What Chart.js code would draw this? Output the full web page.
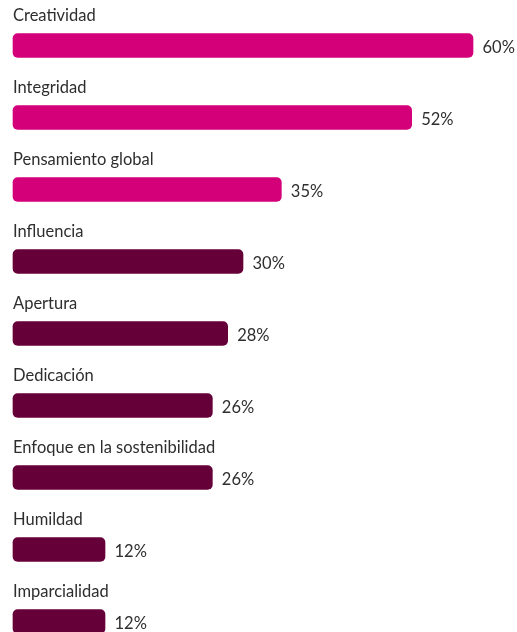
<!DOCTYPE html>
<html><head><meta charset="utf-8">
<script src="https://cdn.jsdelivr.net/npm/chart.js@4"></script>
<style>html,body{margin:0;padding:0;background:#fff;overflow:hidden}#wrap{width:517px;height:632px;position:relative}</style>
</head><body><div id="wrap"><canvas id="c"></canvas></div>
<script>
const categories = ["Creatividad","Integridad","Pensamiento global","Influencia","Apertura","Dedicación","Enfoque en la sostenibilidad","Humildad","Imparcialidad"];
const values = [60,52,35,30,28,26,26,12,12];
const barColors = ["#D4007A","#D4007A","#D4007A","#660038","#660038","#660038","#660038","#660038","#660038"];
const valueLabels = values.map(v => v + "%");
const FONT = "Lato";

const labelPlugin = {
  id: "labels",
  afterDatasetsDraw(chart) {
    const ctx = chart.ctx;
    const meta = chart.getDatasetMeta(0);
    const xs = chart.scales.x;
    ctx.save();
    ctx.fillStyle = "#2e2e2e";
    ctx.font = "16.5px " + FONT;
    ctx.textBaseline = "alphabetic";
    ctx.textAlign = "left";
    meta.data.forEach((bar, i) => {
      ctx.fillText(categories[i], xs.getPixelForValue(0), bar.y - 24.5);
      ctx.fillText(valueLabels[i], bar.x + 9.5, bar.y + 7);
    });
    ctx.restore();
  }
};

new Chart(document.getElementById("c"), {
  type: "bar",
  data: {
    labels: categories,
    datasets: [{
      data: values,
      backgroundColor: barColors,
      borderRadius: 5,
      borderSkipped: false,
      barThickness: 24,
      clip: false
    }]
  },
  options: {
    indexAxis: "y",
    responsive: true,
    maintainAspectRatio: false,
    animation: false,
    layout: { padding: { left: 13, right: 44, top: 45.5, bottom: 10.5 } },
    plugins: { legend: { display: false }, tooltip: { enabled: false } },
    scales: {
      x: { display: false, min: 0, max: 60 },
      y: { display: false, offset: false }
    }
  },
  plugins: [labelPlugin]
});
</script></body></html>
